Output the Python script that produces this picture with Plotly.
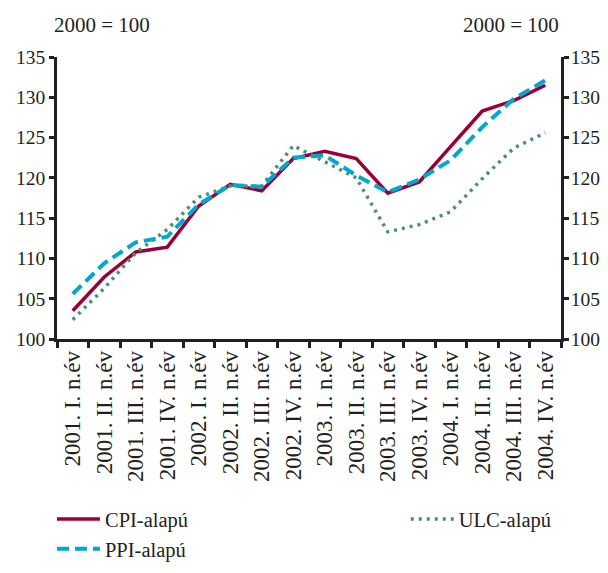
import plotly.graph_objects as go

categories = ["2001. I. n.év", "2001. II. n.év", "2001. III. n.év", "2001. IV. n.év",
              "2002. I. n.év", "2002. II. n.év", "2002. III. n.év", "2002. IV. n.év",
              "2003. I. n.év", "2003. II. n.év", "2003. III. n.év", "2003. IV. n.év",
              "2004. I. n.év", "2004. II. n.év", "2004. III. n.év", "2004. IV. n.év"]
cpi = [103.5, 107.7, 110.8, 111.4, 116.5, 119.2, 118.4, 122.4,
       123.3, 122.4, 118.1, 119.5, 123.9, 128.3, 129.6, 131.5]
ppi = [105.6, 109.4, 112.0, 112.7, 116.7, 119.1, 118.9, 122.5,
       122.8, 120.3, 118.2, 119.8, 122.2, 126.3, 129.8, 132.1]
ulc = [102.4, 106.3, 110.7, 113.6, 117.6, 119.0, 119.0, 124.0,
       122.0, 120.0, 113.3, 114.2, 115.8, 119.9, 123.7, 125.6]
y_ticks = [100, 105, 110, 115, 120, 125, 130, 135]
unit_label = "2000 = 100"

FONT = "Liberation Serif, Times New Roman, serif"
AX = "#231f20"
FS = 21

fig = go.Figure()
fig.add_trace(go.Scatter(x=categories, y=cpi, name="CPI-alapú", mode="lines",
                         legend="legend", legendgroup="a",
                         line=dict(color="#990033", width=3.5)))
fig.add_trace(go.Scatter(x=categories, y=ulc, name="ULC-alapú", mode="lines",
                         legend="legend2",
                         line=dict(color="#4d8f73", width=3.5, dash="3px,5px")))
fig.add_trace(go.Scatter(x=categories, y=ppi, name="PPI-alapú", mode="lines",
                         legend="legend", legendgroup="b",
                         line=dict(color="#00a7cf", width=4, dash="12px,6px")))
# invisible trace to carry the right-hand axis
fig.add_trace(go.Scatter(x=categories, y=cpi, yaxis="y2", mode="lines",
                         line=dict(width=0), opacity=0, showlegend=False,
                         hoverinfo="skip"))

axis_common = dict(range=[100, 135], tickvals=y_ticks, showline=True, linecolor=AX,
                   linewidth=2.5, ticks="outside", ticklen=5, tickwidth=2.5,
                   tickcolor=AX, showgrid=False, zeroline=False, automargin=False,
                   tickfont=dict(family=FONT, size=19.5, color=AX))

legend_common = dict(orientation="v", yanchor="top", xanchor="left",
                     font=dict(family=FONT, size=20.5, color=AX), itemwidth=43,
                     bgcolor="rgba(0,0,0,0)", tracegroupgap=0)

fig.update_layout(
    width=592, height=557,
    margin=dict(l=49, r=39, t=49, b=226, autoexpand=False),
    paper_bgcolor="white", plot_bgcolor="white",
    font=dict(family=FONT, size=FS, color=AX),
    xaxis=dict(type="category", tickangle=-90, showline=True, linecolor=AX,
               linewidth=2.5, ticks="outside", ticklen=6, tickwidth=2.5,
               tickcolor=AX, tickson="boundaries", showgrid=False, automargin=False,
               tickfont=dict(family=FONT, size=23, color=AX),
               range=[-0.5, len(categories) - 0.5]),
    yaxis=dict(side="left", **axis_common),
    yaxis2=dict(side="right", overlaying="y", ticklabelstandoff=-2, **axis_common),
    legend=dict(x=-0.01, y=-0.568, **legend_common),
    legend2=dict(x=0.692, y=-0.568, **legend_common),
    annotations=[
        dict(text=unit_label, xref="paper", yref="paper", x=-0.01, y=1.0,
             yshift=18, xanchor="left", yanchor="bottom", showarrow=False,
             font=dict(family=FONT, size=FS, color=AX)),
        dict(text=unit_label, xref="paper", yref="paper", x=1.0, y=1.0,
             yshift=18, xanchor="right", yanchor="bottom", showarrow=False,
             font=dict(family=FONT, size=FS, color=AX)),
    ],
)

fig.write_html("out.html")
